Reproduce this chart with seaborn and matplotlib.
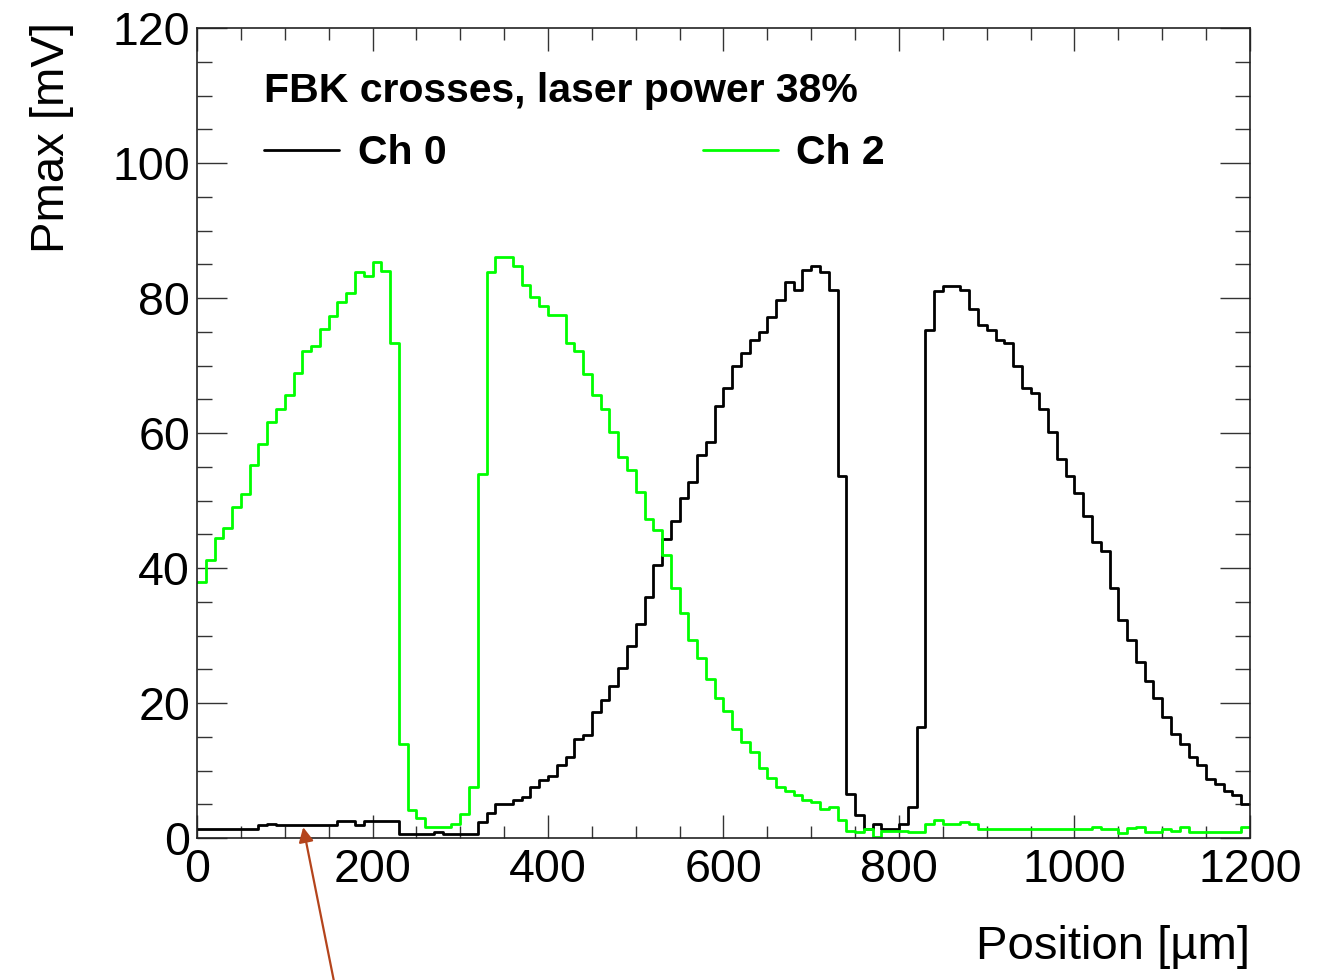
import numpy as np
import pandas as pd
import matplotlib
matplotlib.use("Agg")
import matplotlib.pyplot as plt
from matplotlib.lines import Line2D
from matplotlib.ticker import MultipleLocator
import seaborn as sns

# Scan binning: 120 bins of 10 um across 0-1200 um
bin_width = 10
scan_range = (0, 1200)
bin_centers = np.arange(scan_range[0], scan_range[1], bin_width) + bin_width / 2

# Pulse maximum per bin [mV], channel 0
ch0_pmax = [
    1.3, 1.3, 1.3, 1.3, 1.3, 1.3, 1.3, 1.9, 2.1, 1.9,
    1.9, 1.9, 1.9, 1.9, 1.9, 1.9, 2.5, 2.5, 1.9, 2.5,
    2.5, 2.5, 2.5, 0.6, 0.6, 0.6, 0.6, 0.9, 0.6, 0.6,
    0.6, 0.6, 2.3, 3.7, 5.0, 5.0, 5.6, 6.1, 7.5, 8.6,
    9.2, 10.8, 12.0, 14.6, 15.2, 18.6, 20.5, 22.5, 25.2, 28.4,
    31.7, 35.7, 40.4, 44.3, 46.9, 50.3, 52.8, 56.8, 58.7, 64.0,
    66.6, 69.9, 71.8, 73.8, 75.0, 77.2, 79.7, 82.4, 81.2, 84.2,
    84.8, 83.8, 81.2, 53.6, 6.5, 3.4, 1.4, 2.0, 1.4, 1.4,
    2.0, 4.6, 16.4, 75.3, 81.0, 81.8, 81.8, 81.2, 78.4, 76.0,
    75.3, 73.8, 73.3, 70.0, 66.7, 66.0, 63.5, 60.1, 56.1, 53.6,
    51.1, 47.7, 43.8, 42.5, 37.0, 32.3, 29.3, 26.1, 23.2, 20.7,
    18.0, 15.4, 13.9, 12.0, 10.8, 8.8, 8.0, 6.9, 6.3, 5.0,
]

# Pulse maximum per bin [mV], channel 2
ch2_pmax = [
    38.0, 41.2, 44.5, 45.9, 49.1, 51.0, 55.2, 58.3, 61.7, 63.6,
    65.6, 68.9, 72.1, 72.9, 75.4, 77.4, 79.4, 80.8, 83.9, 83.3,
    85.4, 84.0, 73.4, 13.9, 4.2, 2.9, 1.6, 1.6, 1.6, 2.1,
    3.6, 7.5, 54.0, 83.9, 86.1, 86.1, 84.7, 81.9, 80.2, 78.8,
    77.5, 77.5, 73.4, 72.1, 68.8, 65.6, 63.6, 60.2, 56.4, 54.5,
    51.2, 47.3, 45.7, 42.0, 37.1, 33.3, 29.4, 26.6, 23.5, 20.8,
    18.8, 16.2, 14.2, 12.7, 10.3, 8.9, 7.6, 7.0, 6.4, 5.7,
    5.3, 4.3, 4.6, 2.6, 1.0, 0.9, 1.3, 0.2, 1.0, 1.0,
    1.0, 0.9, 0.9, 2.0, 2.6, 2.1, 2.1, 2.3, 2.0, 1.4,
    1.4, 1.4, 1.4, 1.4, 1.4, 1.4, 1.4, 1.4, 1.4, 1.4,
    1.4, 1.4, 1.7, 1.4, 1.4, 0.7, 1.5, 1.7, 0.9, 0.9,
    1.4, 1.0, 1.6, 0.9, 0.9, 0.9, 0.9, 0.9, 0.9, 1.6,
]

channels = ["Ch 0", "Ch 2"]
channel_colors = {"Ch 0": "#000000", "Ch 2": "#00ff00"}
title_text = "FBK crosses, laser power 38%"

df = pd.DataFrame({
    "position": np.concatenate([bin_centers, bin_centers]),
    "pmax": np.concatenate([ch0_pmax, ch2_pmax]),
    "channel": np.repeat(channels, len(bin_centers)),
})

sns.set_theme(style="ticks")
plt.rcParams["font.family"] = ["Liberation Sans", "DejaVu Sans"]
plt.rcParams.update({
    "text.color": "black",
    "axes.labelcolor": "black",
    "xtick.labelcolor": "black",
    "ytick.labelcolor": "black",
})

fig = plt.figure(figsize=(13.34, 9.8), dpi=100)
ax = fig.add_axes([0.1477, 0.1449, 0.7893, 0.8265])

for ch in channels:
    sns.histplot(
        data=df[df["channel"] == ch], x="position", weights="pmax",
        binwidth=bin_width, binrange=scan_range, element="step", fill=False,
        color=channel_colors[ch], linewidth=2.0, ax=ax, legend=False,
    )

ax.set_xlim(*scan_range)
ax.set_ylim(0, 120)

ax.xaxis.set_major_locator(MultipleLocator(200))
ax.xaxis.set_minor_locator(MultipleLocator(50))
ax.yaxis.set_major_locator(MultipleLocator(20))
ax.yaxis.set_minor_locator(MultipleLocator(5))

ax.tick_params(which="both", direction="in", top=True, right=True,
               color="#333333", width=1.0)
ax.tick_params(axis="x", which="major", length=16.5, pad=7, labelsize=33.5)
ax.tick_params(axis="x", which="minor", length=8.3)
ax.tick_params(axis="y", which="major", length=21.5, pad=5, labelsize=33.5)
ax.tick_params(axis="y", which="minor", length=10.8)
for sp in ax.spines.values():
    sp.set_color("#222222")
    sp.set_linewidth(1.2)

ax.set_xlabel("Position [µm]", fontsize=34, loc="right")
ax.set_ylabel("Pmax [mV]", fontsize=34, loc="top")
ax.xaxis.set_label_coords(1.0, -0.108)
ax.yaxis.set_label_coords(-0.117, 1.008)

handles = [Line2D([], [], color=channel_colors[c], linewidth=2.0) for c in channels]
ax.legend(
    handles=handles, labels=channels, title=title_text, ncol=2,
    frameon=False, loc="upper left", bbox_to_anchor=(0.064, 0.946),
    prop={"weight": "bold", "size": 29.5},
    title_fontproperties={"weight": "bold", "size": 29.5},
    alignment="left", handlelength=1.83, handletextpad=0.45,
    columnspacing=6.25, borderpad=0, borderaxespad=0, labelspacing=0.6,
)

# Pointer to the channel 0 baseline
ax.annotate(
    "", xy=(121, 1.6), xytext=(158, -22.5), xycoords="data", textcoords="data",
    arrowprops=dict(arrowstyle="-|>", color="#b4441c", lw=1.6, mutation_scale=22,
                    shrinkA=0, shrinkB=0),
    annotation_clip=False,
)

fig.savefig("out.png", dpi=100, facecolor="white")
